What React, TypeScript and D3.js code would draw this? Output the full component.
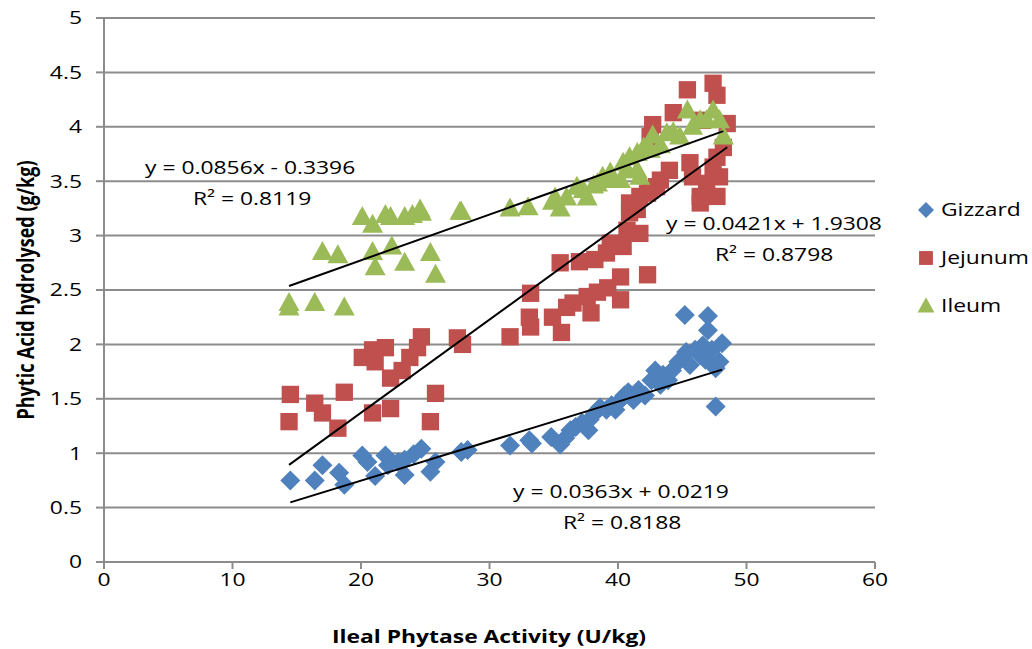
import React from 'react';
import * as d3 from 'd3';

// Ileal phytase activity (U/kg) vs phytic acid hydrolysed (g/kg)
const gizzardX = [14.5, 16.4, 17.0, 18.3, 18.7, 20.1, 20.5, 21.1, 21.9, 22.1, 22.9, 23.4, 23.4, 24.1, 24.7, 25.4, 25.8, 27.8, 28.3, 31.6, 33.1, 33.3, 34.8, 35.5, 35.9, 36.3, 36.7, 37.2, 37.7, 37.8, 38.2, 38.6, 39.1, 39.5, 39.8, 40.2, 40.5, 40.8, 41.2, 41.6, 42.1, 42.6, 42.9, 43.3, 43.5, 43.9, 44.2, 44.7, 45.2, 45.3, 45.6, 46.0, 46.4, 46.6, 47.0, 47.0, 46.8, 47.3, 47.6, 47.6, 48.1, 47.9];
const gizzardY = [0.75, 0.75, 0.89, 0.82, 0.71, 0.98, 0.92, 0.79, 0.98, 0.89, 0.92, 0.80, 0.94, 0.99, 1.04, 0.83, 0.92, 1.01, 1.03, 1.07, 1.12, 1.09, 1.15, 1.08, 1.14, 1.21, 1.24, 1.28, 1.21, 1.31, 1.37, 1.42, 1.40, 1.44, 1.40, 1.49, 1.53, 1.56, 1.49, 1.58, 1.53, 1.67, 1.76, 1.63, 1.72, 1.67, 1.76, 1.84, 2.27, 1.93, 1.81, 1.95, 1.90, 1.99, 2.26, 2.13, 1.86, 1.95, 1.78, 1.43, 2.01, 1.84];

const jejunumX = [14.5, 14.4, 16.4, 17.0, 18.7, 18.2, 20.1, 20.9, 21.1, 21.9, 22.3, 20.9, 22.3, 23.2, 23.8, 24.4, 24.7, 25.8, 25.4, 27.5, 27.9, 31.6, 33.2, 33.1, 33.2, 34.9, 35.6, 36.0, 35.5, 36.5, 37.0, 37.6, 37.9, 38.2, 38.4, 39.1, 39.2, 39.4, 40.2, 40.2, 40.4, 40.7, 40.9, 41.5, 42.3, 41.7, 42.3, 43.0, 45.4, 47.4, 47.7, 44.3, 42.7, 46.6, 48.5, 42.5, 48.2, 47.7, 47.4, 47.9, 46.9, 46.4, 47.7, 45.8, 45.6, 44.0, 43.3, 42.5, 41.7, 40.9, 46.4];
const jejunumY = [1.54, 1.29, 1.46, 1.37, 1.56, 1.23, 1.88, 1.95, 1.84, 1.97, 1.69, 1.37, 1.41, 1.76, 1.88, 1.97, 2.07, 1.55, 1.29, 2.06, 2.00, 2.07, 2.16, 2.25, 2.47, 2.25, 2.11, 2.34, 2.75, 2.38, 2.76, 2.44, 2.29, 2.78, 2.48, 2.84, 2.52, 2.93, 2.41, 2.62, 2.90, 3.05, 3.21, 3.24, 2.64, 3.02, 3.39, 3.45, 4.34, 4.40, 4.29, 4.13, 4.02, 4.06, 4.03, 3.91, 3.81, 3.72, 3.63, 3.54, 3.48, 3.36, 3.36, 3.54, 3.67, 3.60, 3.51, 3.42, 3.36, 3.30, 3.30];

const ileumX = [14.4, 14.4, 16.4, 18.7, 17.0, 18.2, 20.1, 20.9, 20.9, 21.1, 21.9, 22.3, 22.4, 23.4, 23.4, 24.0, 24.6, 24.7, 25.4, 25.8, 27.7, 27.8, 31.6, 33.0, 34.9, 35.5, 35.1, 36.0, 36.8, 37.3, 38.1, 37.6, 39.4, 39.6, 40.9, 41.5, 40.7, 41.7, 42.7, 43.3, 43.8, 44.3, 45.4, 44.8, 45.8, 46.4, 47.4, 47.9, 48.2, 46.9, 42.5, 42.0, 41.5, 38.4, 38.8, 40.2, 40.4];
const ileumY = [2.38, 2.34, 2.38, 2.34, 2.85, 2.82, 3.17, 3.10, 2.85, 2.71, 3.19, 3.17, 2.90, 2.75, 3.17, 3.19, 3.24, 3.21, 2.84, 2.64, 3.22, 3.22, 3.25, 3.26, 3.31, 3.25, 3.35, 3.35, 3.45, 3.42, 3.46, 3.35, 3.58, 3.51, 3.72, 3.76, 3.60, 3.54, 3.92, 3.83, 3.94, 3.95, 4.15, 3.91, 4.00, 4.06, 4.15, 4.06, 3.91, 4.06, 3.79, 3.81, 3.60, 3.48, 3.54, 3.51, 3.67];

const seriesNames = ['Gizzard', 'Jejunum', 'Ileum'];
const seriesColors = ['#4F81BD', '#C0504D', '#9BBB59'];
// trendline coefficients as printed on the chart
const trendSlopes = [0.0363, 0.0856, 0.0421];
const trendIntercepts = [0.0219, -0.3396, 1.9308];
const trendLabels = ['y = 0.0363x + 0.0219', 'y = 0.0856x - 0.3396', 'y = 0.0421x + 1.9308'];
const trendR2 = ['R² = 0.8188', 'R² = 0.8119', 'R² = 0.8798'];

const xTicks = [0, 10, 20, 30, 40, 50, 60];
const yTicks = [0, 0.5, 1, 1.5, 2, 2.5, 3, 3.5, 4, 4.5, 5];

const W = 1032;
const H = 649;
const font = '"Open Sans", sans-serif';
const FS = 18;
const STRETCH = 1.27; // the source image is widened horizontally

// text with the same horizontal stretch as the reference
const T: React.FC<{ x: number; y: number; anchor?: string; bold?: boolean; rotate?: boolean; children: React.ReactNode }> = ({ x, y, anchor = 'start', bold, rotate, children }) => (
  <text
    transform={rotate ? `translate(${x},${y}) scale(${STRETCH},1) rotate(-90)` : `translate(${x},${y}) scale(${STRETCH},1)`}
    dy="0.35em"
    textAnchor={anchor}
    fontFamily={font}
    fontSize={FS}
    fontWeight={bold ? 'bold' : 'normal'}
    fill="#000"
  >
    {children}
  </text>
);

const App: React.FC = () => {
  const x = d3.scaleLinear().domain([0, 60]).range([104, 875]);
  const y = d3.scaleLinear().domain([0, 5]).range([562, 18]);

  const series = [
    { xs: gizzardX, ys: gizzardY },
    { xs: jejunumX, ys: jejunumY },
    { xs: ileumX, ys: ileumY },
  ];

  const diamond = 'M0,-10L10,0L0,10L-10,0Z';
  const square = d3.symbol().type(d3.symbolSquare).size(300)()!;
  const triangle = 'M0,-11L10.5,8L-10.5,8Z';
  const shapes = [diamond, square, triangle];

  const line = d3.line<number[]>().x(d => d[0]).y(d => d[1]);

  // label positions for the trendline equations
  const labelPos = [
    { x: 513, y: 492, rx: 563, ry: 523 },
    { x: 145, y: 168, rx: 193, ry: 199 },
    { x: 666, y: 224, rx: 715, ry: 255 },
  ];

  return (
    <div style={{ position: 'absolute', left: 0, top: 0 }}>
      <svg width={W} height={H} style={{ display: 'block', background: '#fff' }}>
        {/* gridlines */}
        {yTicks.filter(t => t > 0).map(t => (
          <line key={t} x1={104} x2={875} y1={y(t)} y2={y(t)} stroke="#8c8c8c" strokeWidth={2} />
        ))}
        {/* axes */}
        <line x1={104} x2={104} y1={y(5)} y2={y(0)} stroke="#8c8c8c" strokeWidth={2} />
        <line x1={104} x2={875} y1={y(0)} y2={y(0)} stroke="#8c8c8c" strokeWidth={2} />
        {yTicks.map(t => (
          <g key={t}>
            <line x1={96} x2={104} y1={y(t)} y2={y(t)} stroke="#8c8c8c" strokeWidth={2} />
            <T x={82} y={y(t)} anchor="end">{t}</T>
          </g>
        ))}
        {xTicks.map(t => (
          <g key={t}>
            <line x1={x(t)} x2={x(t)} y1={562} y2={569} stroke="#8c8c8c" strokeWidth={2} />
            <T x={x(t)} y={580} anchor="middle">{t}</T>
          </g>
        ))}
        <T x={489} y={637} anchor="middle" bold>Ileal Phytase Activity (U/kg)</T>
        <T x={26} y={290} anchor="middle" bold rotate>Phytic Acid hydrolysed (g/kg)</T>

        {/* markers */}
        {series.map((s, si) => (
          <g key={si} fill={seriesColors[si]}>
            {s.xs.map((xv, i) => (
              <path key={i} d={shapes[si]} transform={`translate(${x(xv)},${y(s.ys[i])})`} />
            ))}
          </g>
        ))}

        {/* trendlines */}
        {series.map((s, si) => {
          const [x0, x1] = d3.extent(s.xs) as [number, number];
          const pts = [x0, x1].map(v => [x(v), y(trendSlopes[si] * v + trendIntercepts[si])]);
          return <path key={si} d={line(pts) || ''} stroke="#000" strokeWidth={2} fill="none" />;
        })}
        {labelPos.map((p, si) => (
          <g key={si}>
            <T x={p.x} y={p.y}>{trendLabels[si]}</T>
            <T x={p.rx} y={p.ry}>{trendR2[si]}</T>
          </g>
        ))}

        {/* legend */}
        {seriesNames.map((n, i) => (
          <g key={n}>
            <path d={shapes[i]} transform={`translate(926,${210 + i * 48}) scale(0.8)`} fill={seriesColors[i]} />
            <T x={941} y={210 + i * 48}>{n}</T>
          </g>
        ))}
      </svg>
    </div>
  );
};

export default App;
